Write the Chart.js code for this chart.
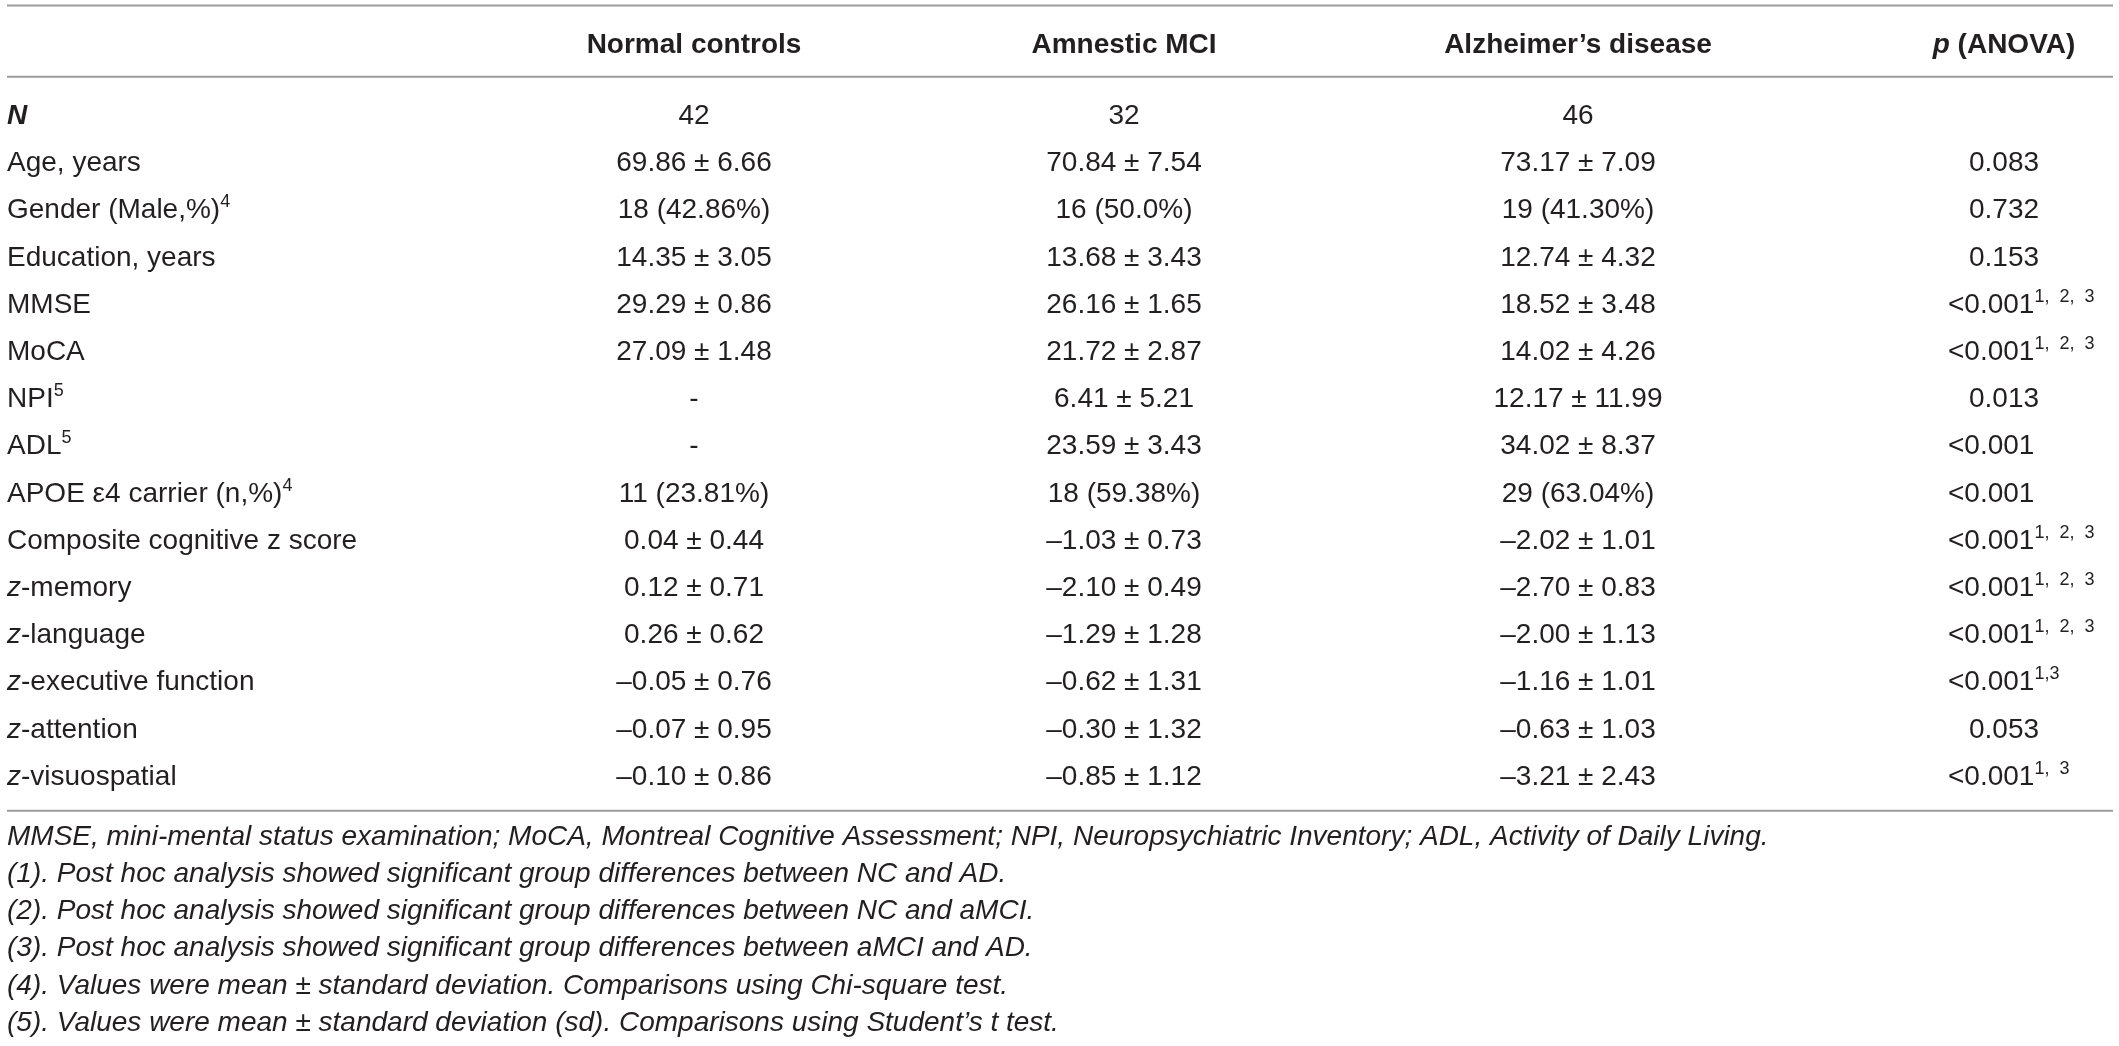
<!DOCTYPE html>
<html>
<head>
<meta charset="utf-8">
<script src="https://cdn.jsdelivr.net/npm/chart.js@4.4.1/dist/chart.umd.min.js"></script>
<style>
html, body { margin: 0; padding: 0; background: #fff; }
#wrap { width: 2119px; height: 1046px; position: relative; }
</style>
</head>
<body>
<div id="wrap"><canvas id="tableChart"></canvas></div>
<script>
// table content
const columns = ['', 'Normal controls', 'Amnestic MCI', 'Alzheimer’s disease', 'p (ANOVA)']

const rowLabels = ['N', 'Age, years', 'Gender (Male,%)', 'Education, years', 'MMSE', 'MoCA', 'NPI', 'ADL',
    'APOE ε4 carrier (n,%)', 'Composite cognitive z score', 'z-memory', 'z-language',
    'z-executive function', 'z-attention', 'z-visuospatial']
const labelSup = ['', '', '4', '', '', '', '5', '5', '4', '', '', '', '', '', '']

const normalControls = ['42', '69.86 ± 6.66', '18 (42.86%)', '14.35 ± 3.05', '29.29 ± 0.86', '27.09 ± 1.48',
    '-', '-', '11 (23.81%)', '0.04 ± 0.44', '0.12 ± 0.71', '0.26 ± 0.62', '–0.05 ± 0.76', '–0.07 ± 0.95', '–0.10 ± 0.86']
const amnesticMCI = ['32', '70.84 ± 7.54', '16 (50.0%)', '13.68 ± 3.43', '26.16 ± 1.65', '21.72 ± 2.87',
    '6.41 ± 5.21', '23.59 ± 3.43', '18 (59.38%)', '–1.03 ± 0.73', '–2.10 ± 0.49', '–1.29 ± 1.28', '–0.62 ± 1.31', '–0.30 ± 1.32', '–0.85 ± 1.12']
const alzheimers = ['46', '73.17 ± 7.09', '19 (41.30%)', '12.74 ± 4.32', '18.52 ± 3.48', '14.02 ± 4.26',
    '12.17 ± 11.99', '34.02 ± 8.37', '29 (63.04%)', '–2.02 ± 1.01', '–2.70 ± 0.83', '–2.00 ± 1.13', '–1.16 ± 1.01', '–0.63 ± 1.03', '–3.21 ± 2.43']
const pValues = ['', '0.083', '0.732', '0.153', '<0.001', '<0.001', '0.013', '<0.001', '<0.001',
    '<0.001', '<0.001', '<0.001', '<0.001', '0.053', '<0.001']
const pSup = ['', '', '', '', '1,  2,  3', '1,  2,  3', '', '', '', '1,  2,  3', '1,  2,  3', '1,  2,  3', '1,3', '', '1,  3']

const footnotes = [
    'MMSE, mini-mental status examination; MoCA, Montreal Cognitive Assessment; NPI, Neuropsychiatric Inventory; ADL, Activity of Daily Living.',
    '(1). Post hoc analysis showed significant group differences between NC and AD.',
    '(2). Post hoc analysis showed significant group differences between NC and aMCI.',
    '(3). Post hoc analysis showed significant group differences between aMCI and AD.',
    '(4). Values were mean ± standard deviation. Comparisons using Chi-square test.',
    '(5). Values were mean ± standard deviation (sd). Comparisons using Student’s t test.'
]

// layout
const W = 2119, H = 1046
const colX = [7, 694, 1124, 1578, 2004]
const pLeftShift = -56
const firstBaseline = 124, rowStep = 47.2
const headerRow = -1.5
const rules = [-2.51, -1.0, 14.55]
const footStart = 15.27, footStep = 0.788
const FONT = '"Liberation Sans", Arial, Helvetica, sans-serif'
const TEXT = '#231f20'

const font = (style, size) => `${style || 'normal'} ${size || 28}px ${FONT}`

const drawParts = (ctx, parts, x, y, align) => {
    let total = 0
    parts.forEach(p => {
        ctx.font = font(p.style, p.sup ? 18 : 28)
        p.w = ctx.measureText(p.t).width
        total += p.w
    })
    let cx = align === 'left' ? x : x - total / 2
    parts.forEach(p => {
        ctx.font = font(p.style, p.sup ? 18 : 28)
        ctx.fillText(p.t, cx, p.sup ? y - 11 : y)
        cx += p.w
    })
}

const labelParts = (text, sup) => {
    let parts
    if (text === 'N') parts = [{t: 'N', style: 'italic bold'}]
    else if (text.startsWith('z-')) parts = [{t: 'z', style: 'italic'}, {t: text.slice(1)}]
    else parts = [{t: text}]
    if (sup) parts.push({t: sup, sup: true})
    return parts
}

const headerParts = text => text.startsWith('p ')
    ? [{t: 'p', style: 'italic bold'}, {t: text.slice(1), style: 'bold'}]
    : [{t: text, style: 'bold'}]

const tablePlugin = {
    id: 'tableText',
    afterDraw(chart) {
        const ctx = chart.ctx
        const xs = chart.scales.x, ys = chart.scales.y
        ctx.save()
        ctx.textBaseline = 'alphabetic'
        ctx.fillStyle = TEXT

        // horizontal rules
        ctx.strokeStyle = '#9b9b9b'
        ctx.lineWidth = 2
        rules.forEach(r => {
            const y = ys.getPixelForValue(r)
            ctx.beginPath()
            ctx.moveTo(xs.getPixelForValue(7), y)
            ctx.lineTo(xs.getPixelForValue(2113), y)
            ctx.stroke()
        })

        // header
        const hy = ys.getPixelForValue(headerRow)
        columns.forEach((c, i) => {
            if (c) drawParts(ctx, headerParts(c), xs.getPixelForValue(colX[i]), hy, 'center')
        })

        // cells from dataset points
        chart.data.datasets.forEach((ds, di) => {
            const meta = chart.getDatasetMeta(di)
            meta.data.forEach((pt, i) => {
                const txt = ds.texts[i]
                if (!txt) return
                if (ds.kind === 'label') {
                    drawParts(ctx, labelParts(txt, labelSup[i]), pt.x, pt.y, 'left')
                } else if (ds.kind === 'p') {
                    const parts = [{t: txt}]
                    if (pSup[i]) parts.push({t: pSup[i], sup: true})
                    if (txt.startsWith('<')) drawParts(ctx, parts, pt.x + pLeftShift, pt.y, 'left')
                    else drawParts(ctx, parts, pt.x, pt.y, 'center')
                } else {
                    drawParts(ctx, [{t: txt}], pt.x, pt.y, 'center')
                }
            })
        })

        // footnotes
        footnotes.forEach((f, i) => {
            drawParts(ctx, [{t: f, style: 'italic'}], xs.getPixelForValue(colX[0]),
                ys.getPixelForValue(footStart + i * footStep), 'left')
        })
        ctx.restore()
    }
}

const makeColumn = (texts, col, kind) => ({
    data: texts.map((t, i) => ({x: colX[col], y: i})),
    texts: texts,
    kind: kind,
    pointRadius: 0,
    pointHoverRadius: 0,
    showLine: false
})

const yMin = -firstBaseline / rowStep
const yMax = yMin + H / rowStep

new Chart('tableChart', {
    type: 'scatter',
    data: {
        datasets: [
            makeColumn(rowLabels, 0, 'label'),
            makeColumn(normalControls, 1, 'value'),
            makeColumn(amnesticMCI, 2, 'value'),
            makeColumn(alzheimers, 3, 'value'),
            makeColumn(pValues, 4, 'p')
        ]
    },
    options: {
        responsive: true,
        maintainAspectRatio: false,
        animation: false,
        layout: {padding: 0},
        events: [],
        plugins: {legend: {display: false}, tooltip: {enabled: false}},
        scales: {
            x: {type: 'linear', display: false, min: 0, max: W},
            y: {type: 'linear', display: false, reverse: true, min: yMin, max: yMax}
        }
    },
    plugins: [tablePlugin]
})
</script>
</body>
</html>
